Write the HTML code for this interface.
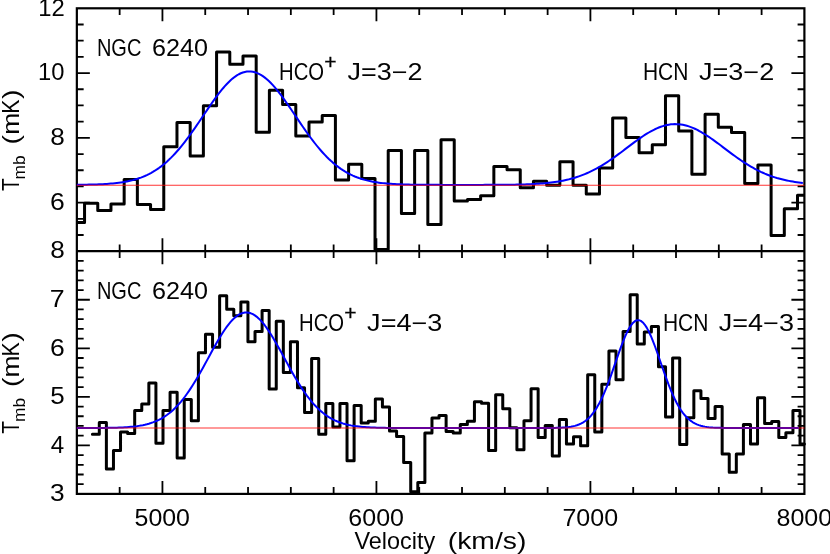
<!DOCTYPE html>
<html><head><meta charset="utf-8"><title>NGC 6240 spectra</title>
<style>
html,body{margin:0;padding:0;background:#fff;}
body{width:830px;height:554px;overflow:hidden;}
svg{display:block}
text{font-family:"Liberation Sans",sans-serif;fill:#000;}
.t{}
</style></head><body>
<svg width="830" height="554" viewBox="0 0 830 554">
<rect width="830" height="554" fill="#fff"/>
<g fill="none" stroke="#000" stroke-width="2.2" stroke-linecap="butt">
<rect x="76.85" y="8.3" width="727.55" height="485.6"/>
<path d="M76.85 251.2 L804.40 251.2"/>
<path d="M119.65 8.30 L119.65 15.10 M119.65 258.00 L119.65 244.40 M119.65 493.90 L119.65 487.10 M162.44 8.30 L162.44 21.30 M162.44 264.20 L162.44 238.20 M162.44 493.90 L162.44 480.90 M205.24 8.30 L205.24 15.10 M205.24 258.00 L205.24 244.40 M205.24 493.90 L205.24 487.10 M248.04 8.30 L248.04 15.10 M248.04 258.00 L248.04 244.40 M248.04 493.90 L248.04 487.10 M290.84 8.30 L290.84 15.10 M290.84 258.00 L290.84 244.40 M290.84 493.90 L290.84 487.10 M333.63 8.30 L333.63 15.10 M333.63 258.00 L333.63 244.40 M333.63 493.90 L333.63 487.10 M376.43 8.30 L376.43 21.30 M376.43 264.20 L376.43 238.20 M376.43 493.90 L376.43 480.90 M419.23 8.30 L419.23 15.10 M419.23 258.00 L419.23 244.40 M419.23 493.90 L419.23 487.10 M462.02 8.30 L462.02 15.10 M462.02 258.00 L462.02 244.40 M462.02 493.90 L462.02 487.10 M504.82 8.30 L504.82 15.10 M504.82 258.00 L504.82 244.40 M504.82 493.90 L504.82 487.10 M547.62 8.30 L547.62 15.10 M547.62 258.00 L547.62 244.40 M547.62 493.90 L547.62 487.10 M590.41 8.30 L590.41 21.30 M590.41 264.20 L590.41 238.20 M590.41 493.90 L590.41 480.90 M633.21 8.30 L633.21 15.10 M633.21 258.00 L633.21 244.40 M633.21 493.90 L633.21 487.10 M676.01 8.30 L676.01 15.10 M676.01 258.00 L676.01 244.40 M676.01 493.90 L676.01 487.10 M718.81 8.30 L718.81 15.10 M718.81 258.00 L718.81 244.40 M718.81 493.90 L718.81 487.10 M761.60 8.30 L761.60 15.10 M761.60 258.00 L761.60 244.40 M761.60 493.90 L761.60 487.10 M76.85 235.01 L83.65 235.01 M804.40 235.01 L797.60 235.01 M76.85 218.81 L83.65 218.81 M804.40 218.81 L797.60 218.81 M76.85 202.62 L89.85 202.62 M804.40 202.62 L791.40 202.62 M76.85 186.43 L83.65 186.43 M804.40 186.43 L797.60 186.43 M76.85 170.23 L83.65 170.23 M804.40 170.23 L797.60 170.23 M76.85 154.04 L83.65 154.04 M804.40 154.04 L797.60 154.04 M76.85 137.85 L89.85 137.85 M804.40 137.85 L791.40 137.85 M76.85 121.65 L83.65 121.65 M804.40 121.65 L797.60 121.65 M76.85 105.46 L83.65 105.46 M804.40 105.46 L797.60 105.46 M76.85 89.27 L83.65 89.27 M804.40 89.27 L797.60 89.27 M76.85 73.07 L89.85 73.07 M804.40 73.07 L791.40 73.07 M76.85 56.88 L83.65 56.88 M804.40 56.88 L797.60 56.88 M76.85 40.69 L83.65 40.69 M804.40 40.69 L797.60 40.69 M76.85 24.49 L83.65 24.49 M804.40 24.49 L797.60 24.49 M76.85 484.19 L83.65 484.19 M804.40 484.19 L797.60 484.19 M76.85 474.48 L83.65 474.48 M804.40 474.48 L797.60 474.48 M76.85 464.78 L83.65 464.78 M804.40 464.78 L797.60 464.78 M76.85 455.07 L83.65 455.07 M804.40 455.07 L797.60 455.07 M76.85 445.36 L89.85 445.36 M804.40 445.36 L791.40 445.36 M76.85 435.65 L83.65 435.65 M804.40 435.65 L797.60 435.65 M76.85 425.94 L83.65 425.94 M804.40 425.94 L797.60 425.94 M76.85 416.24 L83.65 416.24 M804.40 416.24 L797.60 416.24 M76.85 406.53 L83.65 406.53 M804.40 406.53 L797.60 406.53 M76.85 396.82 L89.85 396.82 M804.40 396.82 L791.40 396.82 M76.85 387.11 L83.65 387.11 M804.40 387.11 L797.60 387.11 M76.85 377.40 L83.65 377.40 M804.40 377.40 L797.60 377.40 M76.85 367.70 L83.65 367.70 M804.40 367.70 L797.60 367.70 M76.85 357.99 L83.65 357.99 M804.40 357.99 L797.60 357.99 M76.85 348.28 L89.85 348.28 M804.40 348.28 L791.40 348.28 M76.85 338.57 L83.65 338.57 M804.40 338.57 L797.60 338.57 M76.85 328.86 L83.65 328.86 M804.40 328.86 L797.60 328.86 M76.85 319.16 L83.65 319.16 M804.40 319.16 L797.60 319.16 M76.85 309.45 L83.65 309.45 M804.40 309.45 L797.60 309.45 M76.85 299.74 L89.85 299.74 M804.40 299.74 L791.40 299.74 M76.85 290.03 L83.65 290.03 M804.40 290.03 L797.60 290.03 M76.85 280.32 L83.65 280.32 M804.40 280.32 L797.60 280.32 M76.85 270.62 L83.65 270.62 M804.40 270.62 L797.60 270.62 M76.85 260.91 L83.65 260.91 M804.40 260.91 L797.60 260.91" stroke-width="1.8"/>
</g>
<path d="M76.85 222.40 L84.55 222.40 L84.55 203.30 L97.76 203.30 L97.76 210.50 L110.96 210.50 L110.96 204.00 L124.16 204.00 L124.16 179.50 L137.36 179.50 L137.36 204.40 L150.57 204.40 L150.57 209.40 L163.77 209.40 L163.77 146.70 L176.97 146.70 L176.97 122.60 L190.18 122.60 L190.18 156.00 L203.38 156.00 L203.38 105.80 L216.58 105.80 L216.58 52.00 L229.79 52.00 L229.79 64.20 L242.99 64.20 L242.99 56.00 L256.19 56.00 L256.19 132.20 L269.39 132.20 L269.39 90.30 L282.60 90.30 L282.60 104.60 L295.80 104.60 L295.80 135.90 L309.00 135.90 L309.00 122.00 L322.21 122.00 L322.21 115.50 L335.41 115.50 L335.41 180.10 L348.61 180.10 L348.61 164.30 L361.81 164.30 L361.81 178.40 L375.02 178.40 L375.02 249.40 L388.22 249.40 L388.22 150.60 L401.42 150.60 L401.42 213.50 L414.63 213.50 L414.63 150.60 L427.83 150.60 L427.83 224.60 L441.03 224.60 L441.03 139.80 L454.24 139.80 L454.24 201.10 L467.44 201.10 L467.44 199.40 L480.64 199.40 L480.64 195.70 L493.85 195.70 L493.85 166.60 L507.05 166.60 L507.05 169.70 L520.25 169.70 L520.25 187.80 L533.45 187.80 L533.45 181.20 L546.66 181.20 L546.66 185.30 L559.86 185.30 L559.86 161.70 L573.06 161.70 L573.06 185.30 L586.27 185.30 L586.27 194.00 L599.47 194.00 L599.47 168.00 L612.67 168.00 L612.67 118.10 L625.88 118.10 L625.88 137.60 L639.08 137.60 L639.08 152.80 L652.28 152.80 L652.28 144.70 L665.48 144.70 L665.48 95.80 L678.69 95.80 L678.69 131.10 L691.89 131.10 L691.89 174.30 L705.09 174.30 L705.09 114.20 L718.30 114.20 L718.30 127.20 L731.50 127.20 L731.50 132.60 L744.70 132.60 L744.70 183.40 L757.90 183.40 L757.90 165.00 L771.11 165.00 L771.11 235.40 L784.31 235.40 L784.31 208.70 L797.51 208.70 L797.51 195.30 L804.40 195.30" fill="none" stroke="#000" stroke-width="3.0" stroke-linejoin="round" stroke-linecap="butt"/>
<path d="M92.40 434.20 L99.30 434.20 L99.30 422.60 L106.38 422.60 L106.38 468.90 L113.46 468.90 L113.46 450.50 L120.53 450.50 L120.53 431.90 L127.61 431.90 L127.61 433.60 L134.69 433.60 L134.69 410.40 L141.77 410.40 L141.77 403.90 L148.85 403.90 L148.85 383.00 L155.92 383.00 L155.92 443.30 L163.00 443.30 L163.00 410.40 L170.08 410.40 L170.08 392.20 L177.16 392.20 L177.16 458.10 L184.24 458.10 L184.24 399.50 L191.31 399.50 L191.31 420.80 L198.39 420.80 L198.39 352.70 L205.47 352.70 L205.47 334.20 L212.55 334.20 L212.55 347.20 L219.63 347.20 L219.63 295.80 L226.70 295.80 L226.70 309.30 L233.78 309.30 L233.78 315.80 L240.86 315.80 L240.86 302.10 L247.94 302.10 L247.94 341.80 L255.02 341.80 L255.02 331.40 L262.09 331.40 L262.09 310.40 L269.17 310.40 L269.17 389.00 L276.25 389.00 L276.25 321.20 L283.33 321.20 L283.33 372.60 L290.41 372.60 L290.41 341.80 L297.48 341.80 L297.48 387.80 L304.56 387.80 L304.56 412.50 L311.64 412.50 L311.64 358.50 L318.72 358.50 L318.72 434.20 L325.80 434.20 L325.80 403.40 L332.87 403.40 L332.87 427.10 L339.95 427.10 L339.95 403.40 L347.03 403.40 L347.03 460.70 L354.11 460.70 L354.11 405.60 L361.19 405.60 L361.19 422.90 L368.26 422.90 L368.26 421.20 L375.34 421.20 L375.34 399.10 L382.42 399.10 L382.42 407.10 L389.50 407.10 L389.50 431.00 L396.58 431.00 L396.58 436.40 L403.65 436.40 L403.65 462.40 L410.73 462.40 L410.73 491.70 L417.81 491.70 L417.81 482.40 L424.89 482.40 L424.89 433.10 L431.97 433.10 L431.97 418.00 L439.04 418.00 L439.04 415.40 L446.12 415.40 L446.12 431.40 L453.20 431.40 L453.20 433.10 L460.28 433.10 L460.28 424.50 L467.36 424.50 L467.36 421.20 L474.43 421.20 L474.43 401.70 L481.51 401.70 L481.51 403.20 L488.59 403.20 L488.59 450.50 L495.67 450.50 L495.67 394.70 L502.75 394.70 L502.75 408.80 L509.82 408.80 L509.82 427.70 L516.90 427.70 L516.90 449.80 L523.98 449.80 L523.98 420.80 L531.06 420.80 L531.06 388.70 L538.14 388.70 L538.14 437.50 L545.21 437.50 L545.21 425.50 L552.29 425.50 L552.29 455.90 L559.37 455.90 L559.37 419.50 L566.45 419.50 L566.45 444.00 L573.53 444.00 L573.53 436.80 L580.60 436.80 L580.60 445.70 L587.68 445.70 L587.68 374.80 L594.76 374.80 L594.76 432.00 L601.84 432.00 L601.84 384.30 L608.92 384.30 L608.92 351.10 L615.99 351.10 L615.99 379.80 L623.07 379.80 L623.07 331.60 L630.15 331.60 L630.15 294.70 L637.23 294.70 L637.23 344.00 L644.31 344.00 L644.31 332.00 L651.38 332.00 L651.38 326.60 L658.46 326.60 L658.46 366.70 L665.54 366.70 L665.54 417.00 L672.62 417.00 L672.62 358.10 L679.70 358.10 L679.70 444.40 L686.77 444.40 L686.77 417.70 L693.85 417.70 L693.85 390.80 L700.93 390.80 L700.93 398.50 L708.01 398.50 L708.01 418.40 L715.09 418.40 L715.09 406.40 L722.16 406.40 L722.16 454.00 L729.24 454.00 L729.24 472.20 L736.32 472.20 L736.32 454.00 L743.40 454.00 L743.40 424.50 L750.48 424.50 L750.48 444.00 L757.55 444.00 L757.55 397.80 L764.63 397.80 L764.63 423.40 L771.71 423.40 L771.71 421.60 L778.79 421.60 L778.79 437.50 L785.87 437.50 L785.87 432.70 L792.94 432.70 L792.94 410.40 L800.02 410.40 L800.02 444.00 L804.40 444.00" fill="none" stroke="#000" stroke-width="3.0" stroke-linejoin="round" stroke-linecap="round"/>
<path d="M76.85 184.79 L78.85 184.77 L80.85 184.75 L82.85 184.72 L84.85 184.69 L86.85 184.66 L88.85 184.62 L90.85 184.58 L92.85 184.52 L94.85 184.46 L96.85 184.40 L98.85 184.32 L100.85 184.24 L102.85 184.14 L104.85 184.03 L106.85 183.90 L108.85 183.76 L110.85 183.60 L112.85 183.42 L114.85 183.23 L116.85 183.00 L118.85 182.76 L120.85 182.48 L122.85 182.18 L124.85 181.84 L126.85 181.46 L128.85 181.05 L130.85 180.60 L132.85 180.10 L134.85 179.55 L136.85 178.96 L138.85 178.30 L140.85 177.60 L142.85 176.82 L144.85 175.99 L146.85 175.09 L148.85 174.11 L150.85 173.06 L152.85 171.94 L154.85 170.73 L156.85 169.44 L158.85 168.06 L160.85 166.60 L162.85 165.04 L164.85 163.39 L166.85 161.65 L168.85 159.82 L170.85 157.89 L172.85 155.86 L174.85 153.74 L176.85 151.53 L178.85 149.23 L180.85 146.85 L182.85 144.38 L184.85 141.82 L186.85 139.20 L188.85 136.50 L190.85 133.74 L192.85 130.92 L194.85 128.06 L196.85 125.15 L198.85 122.21 L200.85 119.25 L202.85 116.28 L204.85 113.31 L206.85 110.35 L208.85 107.41 L210.85 104.50 L212.85 101.64 L214.85 98.84 L216.85 96.12 L218.85 93.47 L220.85 90.93 L222.85 88.49 L224.85 86.17 L226.85 83.99 L228.85 81.95 L230.85 80.06 L232.85 78.34 L234.85 76.80 L236.85 75.43 L238.85 74.25 L240.85 73.27 L242.85 72.50 L244.85 71.92 L246.85 71.56 L248.85 71.41 L250.85 71.46 L252.85 71.73 L254.85 72.21 L256.85 72.90 L258.85 73.79 L260.85 74.88 L262.85 76.16 L264.85 77.62 L266.85 79.27 L268.85 81.08 L270.85 83.05 L272.85 85.17 L274.85 87.43 L276.85 89.82 L278.85 92.31 L280.85 94.92 L282.85 97.61 L284.85 100.38 L286.85 103.21 L288.85 106.10 L290.85 109.02 L292.85 111.97 L294.85 114.94 L296.85 117.92 L298.85 120.88 L300.85 123.83 L302.85 126.75 L304.85 129.64 L306.85 132.48 L308.85 135.27 L310.85 137.99 L312.85 140.65 L314.85 143.24 L316.85 145.75 L318.85 148.17 L320.85 150.51 L322.85 152.76 L324.85 154.92 L326.85 156.99 L328.85 158.96 L330.85 160.84 L332.85 162.62 L334.85 164.31 L336.85 165.91 L338.85 167.41 L340.85 168.83 L342.85 170.16 L344.85 171.40 L346.85 172.57 L348.85 173.65 L350.85 174.66 L352.85 175.59 L354.85 176.46 L356.85 177.26 L358.85 177.99 L360.85 178.67 L362.85 179.29 L364.85 179.86 L366.85 180.38 L368.85 180.85 L370.85 181.28 L372.85 181.67 L374.85 182.03 L376.85 182.35 L378.85 182.64 L380.85 182.90 L382.85 183.13 L384.85 183.34 L386.85 183.52 L388.85 183.69 L390.85 183.84 L392.85 183.97 L394.85 184.09 L396.85 184.19 L398.85 184.28 L400.85 184.36 L402.85 184.44 L404.85 184.50 L406.85 184.55 L408.85 184.60 L410.85 184.64 L412.85 184.68 L414.85 184.71 L416.85 184.74 L418.85 184.76 L420.85 184.78 L422.85 184.80 L424.85 184.81 L426.85 184.83 L428.85 184.84 L430.85 184.85 L432.85 184.86 L434.85 184.86 L436.85 184.87 L438.85 184.87 L440.85 184.88 L442.85 184.88 L444.85 184.88 L446.85 184.89 L448.85 184.89 L450.85 184.89 L452.85 184.89 L454.85 184.89 L456.85 184.89 L458.85 184.89 L460.85 184.89 L462.85 184.89 L464.85 184.89 L466.85 184.89 L468.85 184.89 L470.85 184.89 L472.85 184.89 L474.85 184.89 L476.85 184.88 L478.85 184.88 L480.85 184.88 L482.85 184.88 L484.85 184.87 L486.85 184.87 L488.85 184.86 L490.85 184.85 L492.85 184.85 L494.85 184.84 L496.85 184.83 L498.85 184.81 L500.85 184.80 L502.85 184.79 L504.85 184.77 L506.85 184.75 L508.85 184.72 L510.85 184.70 L512.85 184.67 L514.85 184.63 L516.85 184.60 L518.85 184.55 L520.85 184.50 L522.85 184.45 L524.85 184.39 L526.85 184.32 L528.85 184.24 L530.85 184.16 L532.85 184.06 L534.85 183.96 L536.85 183.84 L538.85 183.71 L540.85 183.56 L542.85 183.40 L544.85 183.23 L546.85 183.03 L548.85 182.82 L550.85 182.59 L552.85 182.34 L554.85 182.06 L556.85 181.76 L558.85 181.43 L560.85 181.08 L562.85 180.69 L564.85 180.28 L566.85 179.83 L568.85 179.35 L570.85 178.83 L572.85 178.28 L574.85 177.69 L576.85 177.05 L578.85 176.38 L580.85 175.67 L582.85 174.91 L584.85 174.11 L586.85 173.26 L588.85 172.37 L590.85 171.43 L592.85 170.45 L594.85 169.42 L596.85 168.34 L598.85 167.22 L600.85 166.06 L602.85 164.86 L604.85 163.61 L606.85 162.32 L608.85 161.00 L610.85 159.64 L612.85 158.25 L614.85 156.83 L616.85 155.39 L618.85 153.92 L620.85 152.43 L622.85 150.93 L624.85 149.42 L626.85 147.91 L628.85 146.40 L630.85 144.89 L632.85 143.39 L634.85 141.91 L636.85 140.45 L638.85 139.02 L640.85 137.63 L642.85 136.27 L644.85 134.96 L646.85 133.70 L648.85 132.50 L650.85 131.35 L652.85 130.28 L654.85 129.28 L656.85 128.35 L658.85 127.51 L660.85 126.75 L662.85 126.09 L664.85 125.51 L666.85 125.03 L668.85 124.65 L670.85 124.36 L672.85 124.18 L674.85 124.10 L676.85 124.13 L678.85 124.25 L680.85 124.48 L682.85 124.81 L684.85 125.23 L686.85 125.76 L688.85 126.38 L690.85 127.08 L692.85 127.88 L694.85 128.76 L696.85 129.72 L698.85 130.76 L700.85 131.86 L702.85 133.03 L704.85 134.26 L706.85 135.54 L708.85 136.88 L710.85 138.25 L712.85 139.66 L714.85 141.11 L716.85 142.57 L718.85 144.06 L720.85 145.57 L722.85 147.08 L724.85 148.59 L726.85 150.10 L728.85 151.61 L730.85 153.10 L732.85 154.58 L734.85 156.04 L736.85 157.47 L738.85 158.88 L740.85 160.26 L742.85 161.60 L744.85 162.91 L746.85 164.18 L748.85 165.40 L750.85 166.59 L752.85 167.73 L754.85 168.83 L756.85 169.89 L758.85 170.89 L760.85 171.86 L762.85 172.77 L764.85 173.65 L766.85 174.47 L768.85 175.25 L770.85 175.99 L772.85 176.69 L774.85 177.34 L776.85 177.96 L778.85 178.53 L780.85 179.07 L782.85 179.57 L784.85 180.03 L786.85 180.47 L788.85 180.87 L790.85 181.24 L792.85 181.58 L794.85 181.90 L796.85 182.19 L798.85 182.45 L800.85 182.70 L802.85 182.92" fill="none" stroke="#0000ff" stroke-width="2.0" stroke-linejoin="round"/>
<path d="M76.85 427.99 L78.85 427.99 L80.85 427.99 L82.85 427.99 L84.85 427.99 L86.85 427.98 L88.85 427.98 L90.85 427.97 L92.85 427.97 L94.85 427.96 L96.85 427.95 L98.85 427.94 L100.85 427.92 L102.85 427.91 L104.85 427.89 L106.85 427.86 L108.85 427.83 L110.85 427.80 L112.85 427.76 L114.85 427.71 L116.85 427.65 L118.85 427.58 L120.85 427.50 L122.85 427.41 L124.85 427.30 L126.85 427.17 L128.85 427.03 L130.85 426.86 L132.85 426.66 L134.85 426.43 L136.85 426.18 L138.85 425.88 L140.85 425.54 L142.85 425.16 L144.85 424.73 L146.85 424.24 L148.85 423.69 L150.85 423.07 L152.85 422.39 L154.85 421.62 L156.85 420.77 L158.85 419.82 L160.85 418.78 L162.85 417.64 L164.85 416.39 L166.85 415.02 L168.85 413.53 L170.85 411.91 L172.85 410.16 L174.85 408.28 L176.85 406.26 L178.85 404.10 L180.85 401.79 L182.85 399.35 L184.85 396.76 L186.85 394.03 L188.85 391.17 L190.85 388.17 L192.85 385.05 L194.85 381.81 L196.85 378.47 L198.85 375.03 L200.85 371.51 L202.85 367.93 L204.85 364.29 L206.85 360.62 L208.85 356.93 L210.85 353.25 L212.85 349.60 L214.85 345.99 L216.85 342.46 L218.85 339.02 L220.85 335.70 L222.85 332.53 L224.85 329.51 L226.85 326.68 L228.85 324.06 L230.85 321.66 L232.85 319.51 L234.85 317.63 L236.85 316.02 L238.85 314.70 L240.85 313.68 L242.85 312.98 L244.85 312.58 L246.85 312.51 L248.85 312.76 L250.85 313.32 L252.85 314.20 L254.85 315.39 L256.85 316.87 L258.85 318.63 L260.85 320.66 L262.85 322.95 L264.85 325.47 L266.85 328.21 L268.85 331.15 L270.85 334.25 L272.85 337.51 L274.85 340.90 L276.85 344.39 L278.85 347.97 L280.85 351.60 L282.85 355.27 L284.85 358.96 L286.85 362.64 L288.85 366.29 L290.85 369.91 L292.85 373.46 L294.85 376.94 L296.85 380.32 L298.85 383.61 L300.85 386.78 L302.85 389.83 L304.85 392.76 L306.85 395.55 L308.85 398.20 L310.85 400.71 L312.85 403.08 L314.85 405.30 L316.85 407.39 L318.85 409.33 L320.85 411.14 L322.85 412.82 L324.85 414.36 L326.85 415.79 L328.85 417.09 L330.85 418.28 L332.85 419.37 L334.85 420.35 L336.85 421.25 L338.85 422.05 L340.85 422.77 L342.85 423.42 L344.85 424.00 L346.85 424.51 L348.85 424.97 L350.85 425.38 L352.85 425.73 L354.85 426.05 L356.85 426.32 L358.85 426.56 L360.85 426.77 L362.85 426.95 L364.85 427.11 L366.85 427.25 L368.85 427.36 L370.85 427.46 L372.85 427.55 L374.85 427.62 L376.85 427.68 L378.85 427.74 L380.85 427.78 L382.85 427.82 L384.85 427.85 L386.85 427.88 L388.85 427.90 L390.85 427.92 L392.85 427.93 L394.85 427.94 L396.85 427.95 L398.85 427.96 L400.85 427.97 L402.85 427.98 L404.85 427.98 L406.85 427.98 L408.85 427.99 L410.85 427.99 L412.85 427.99 L414.85 427.99 L416.85 428.00 L418.85 428.00 L420.85 428.00 L422.85 428.00 L424.85 428.00 L426.85 428.00 L428.85 428.00 L430.85 428.00 L432.85 428.00 L434.85 428.00 L436.85 428.00 L438.85 428.00 L440.85 428.00 L442.85 428.00 L444.85 428.00 L446.85 428.00 L448.85 428.00 L450.85 428.00 L452.85 428.00 L454.85 428.00 L456.85 428.00 L458.85 428.00 L460.85 428.00 L462.85 428.00 L464.85 428.00 L466.85 428.00 L468.85 428.00 L470.85 428.00 L472.85 428.00 L474.85 428.00 L476.85 428.00 L478.85 428.00 L480.85 428.00 L482.85 428.00 L484.85 428.00 L486.85 428.00 L488.85 428.00 L490.85 428.00 L492.85 428.00 L494.85 428.00 L496.85 428.00 L498.85 428.00 L500.85 428.00 L502.85 428.00 L504.85 428.00 L506.85 428.00 L508.85 428.00 L510.85 428.00 L512.85 428.00 L514.85 428.00 L516.85 428.00 L518.85 428.00 L520.85 428.00 L522.85 428.00 L524.85 428.00 L526.85 428.00 L528.85 428.00 L530.85 428.00 L532.85 428.00 L534.85 428.00 L536.85 428.00 L538.85 427.99 L540.85 427.99 L542.85 427.99 L544.85 427.98 L546.85 427.97 L548.85 427.96 L550.85 427.94 L552.85 427.91 L554.85 427.88 L556.85 427.83 L558.85 427.77 L560.85 427.69 L562.85 427.58 L564.85 427.44 L566.85 427.25 L568.85 427.01 L570.85 426.71 L572.85 426.33 L574.85 425.85 L576.85 425.26 L578.85 424.53 L580.85 423.64 L582.85 422.56 L584.85 421.28 L586.85 419.75 L588.85 417.96 L590.85 415.87 L592.85 413.46 L594.85 410.71 L596.85 407.60 L598.85 404.12 L600.85 400.26 L602.85 396.03 L604.85 391.44 L606.85 386.52 L608.85 381.30 L610.85 375.84 L612.85 370.20 L614.85 364.44 L616.85 358.65 L618.85 352.93 L620.85 347.37 L622.85 342.07 L624.85 337.14 L626.85 332.67 L628.85 328.77 L630.85 325.51 L632.85 322.97 L634.85 321.21 L636.85 320.26 L638.85 320.16 L640.85 320.90 L642.85 322.46 L644.85 324.81 L646.85 327.89 L648.85 331.64 L650.85 335.97 L652.85 340.80 L654.85 346.01 L656.85 351.52 L658.85 357.21 L660.85 362.99 L662.85 368.76 L664.85 374.44 L666.85 379.96 L668.85 385.24 L670.85 390.24 L672.85 394.91 L674.85 399.24 L676.85 403.19 L678.85 406.77 L680.85 409.97 L682.85 412.81 L684.85 415.30 L686.85 417.46 L688.85 419.33 L690.85 420.92 L692.85 422.26 L694.85 423.39 L696.85 424.32 L698.85 425.09 L700.85 425.71 L702.85 426.22 L704.85 426.62 L706.85 426.94 L708.85 427.20 L710.85 427.39 L712.85 427.55 L714.85 427.66 L716.85 427.75 L718.85 427.82 L720.85 427.87 L722.85 427.90 L724.85 427.93 L726.85 427.95 L728.85 427.97 L730.85 427.98 L732.85 427.98 L734.85 427.99 L736.85 427.99 L738.85 427.99 L740.85 428.00 L742.85 428.00 L744.85 428.00 L746.85 428.00 L748.85 428.00 L750.85 428.00 L752.85 428.00 L754.85 428.00 L756.85 428.00 L758.85 428.00 L760.85 428.00 L762.85 428.00 L764.85 428.00 L766.85 428.00 L768.85 428.00 L770.85 428.00 L772.85 428.00 L774.85 428.00 L776.85 428.00 L778.85 428.00 L780.85 428.00 L782.85 428.00 L784.85 428.00 L786.85 428.00 L788.85 428.00 L790.85 428.00 L792.85 428.00 L794.85 428.00 L796.85 428.00 L798.85 428.00" fill="none" stroke="#0000ff" stroke-width="2.0" stroke-linejoin="round"/>
<path d="M76.8 185.25 L804.4 185.25" stroke="#ff0000" stroke-opacity="0.8" stroke-width="1.0" fill="none"/>
<path d="M76.8 428.0 L804.4 428.0" stroke="#ff0000" stroke-opacity="0.8" stroke-width="1.0" fill="none"/>
<g opacity="0.99">
<text id="ngc1" x="96.88" y="55.8" textLength="44.47" lengthAdjust="spacingAndGlyphs" font-size="23.2">NGC</text>
<text id="n62401" class="t" x="152.02" y="55.8" textLength="56.04" lengthAdjust="spacingAndGlyphs" font-size="23.2">6240</text>
<text id="ngc2" x="96.88" y="299.0" textLength="44.47" lengthAdjust="spacingAndGlyphs" font-size="23.2">NGC</text>
<text id="n62402" class="t" x="152.02" y="299.0" textLength="56.04" lengthAdjust="spacingAndGlyphs" font-size="23.2">6240</text>
<text id="hco1" x="279.02" y="80.3" textLength="45.05" lengthAdjust="spacingAndGlyphs" font-size="23.2">HCO</text>
<text id="j1" class="t" x="347.42" y="80.3" textLength="75.01" lengthAdjust="spacingAndGlyphs" font-size="23.2">J=3&#8722;2</text>
<text id="hcn1" x="642.93" y="80.3" textLength="45.47" lengthAdjust="spacingAndGlyphs" font-size="23.2">HCN</text>
<text id="j2" class="t" x="698.98" y="80.3" textLength="75.24" lengthAdjust="spacingAndGlyphs" font-size="23.2">J=3&#8722;2</text>
<text id="hco2" x="299.02" y="330.8" textLength="45.05" lengthAdjust="spacingAndGlyphs" font-size="23.2">HCO</text>
<text id="j3" class="t" x="367.14" y="330.8" textLength="75.22" lengthAdjust="spacingAndGlyphs" font-size="23.2">J=4&#8722;3</text>
<text id="hcn2" x="662.93" y="330.8" textLength="45.47" lengthAdjust="spacingAndGlyphs" font-size="23.2">HCN</text>
<text id="j4" class="t" x="718.78" y="330.8" textLength="75.19" lengthAdjust="spacingAndGlyphs" font-size="23.2">J=4&#8722;3</text>
<text id="vel" class="t" x="354.47" y="549.4" textLength="80.61" lengthAdjust="spacingAndGlyphs" font-size="24.5">Velocity</text>
<text id="kms" class="t" x="447.78" y="549.4" textLength="78.60" lengthAdjust="spacingAndGlyphs" font-size="24.5">(km/s)</text>
<text id="x5000" class="t" x="134.57" y="525.7" textLength="55.40" lengthAdjust="spacingAndGlyphs" font-size="24.5">5000</text>
<text id="x6000" class="t" x="348.33" y="525.7" textLength="55.64" lengthAdjust="spacingAndGlyphs" font-size="24.5">6000</text>
<text id="x7000" class="t" x="562.45" y="525.7" textLength="55.64" lengthAdjust="spacingAndGlyphs" font-size="24.5">7000</text>
<text id="x8000" class="t" x="776.56" y="525.7" textLength="55.66" lengthAdjust="spacingAndGlyphs" font-size="24.5">8000</text>
<text id="yt12" class="t" x="38.14" y="15.5" textLength="26.52" lengthAdjust="spacingAndGlyphs" font-size="24.5">12</text>
<text id="yt10" class="t" x="38.02" y="80.3" textLength="26.42" lengthAdjust="spacingAndGlyphs" font-size="24.5">10</text>
<text id="yt8" class="t" x="50.28" y="145.0" textLength="14.54" lengthAdjust="spacingAndGlyphs" font-size="24.5">8</text>
<text id="yt6" class="t" x="50.07" y="209.8" textLength="14.78" lengthAdjust="spacingAndGlyphs" font-size="24.5">6</text>
<text id="yb8" class="t" x="50.28" y="258.4" textLength="14.54" lengthAdjust="spacingAndGlyphs" font-size="24.5">8</text>
<text id="yb7" class="t" x="49.89" y="306.9" textLength="14.91" lengthAdjust="spacingAndGlyphs" font-size="24.5">7</text>
<text id="yb6" class="t" x="50.07" y="355.5" textLength="14.78" lengthAdjust="spacingAndGlyphs" font-size="24.5">6</text>
<text id="yb5" class="t" x="50.22" y="404.0" textLength="14.47" lengthAdjust="spacingAndGlyphs" font-size="24.5">5</text>
<text id="yb4" class="t" x="50.87" y="452.6" textLength="13.44" lengthAdjust="spacingAndGlyphs" font-size="24.5">4</text>
<text id="yb3" class="t" x="50.03" y="501.1" textLength="14.64" lengthAdjust="spacingAndGlyphs" font-size="24.5">3</text>
<text x="324.3" y="69.4" font-size="21" stroke="#000" stroke-width="0.35">+</text>
<text x="344.3" y="320.2" font-size="21" stroke="#000" stroke-width="0.35">+</text>
<g transform="translate(19.0,190.7) rotate(-90)"><text class="t" x="-0.36" y="0.0" font-size="24.5" textLength="12.76" lengthAdjust="spacingAndGlyphs">T</text><text x="11.32" y="6.2" font-size="17.0" textLength="24.19" lengthAdjust="spacingAndGlyphs">mb</text><text x="46.31" y="0.0" font-size="24.5" textLength="9.51" lengthAdjust="spacingAndGlyphs">(</text><text class="t" x="55.89" y="0.0" font-size="24.5" textLength="21.92" lengthAdjust="spacingAndGlyphs">m</text><text class="t" x="76.93" y="0.0" font-size="24.5" textLength="14.19" lengthAdjust="spacingAndGlyphs">K</text><text x="91.63" y="0.0" font-size="24.5" textLength="9.53" lengthAdjust="spacingAndGlyphs">)</text></g>
<g transform="translate(19.0,433.3) rotate(-90)"><text class="t" x="-0.36" y="0.0" font-size="24.5" textLength="12.76" lengthAdjust="spacingAndGlyphs">T</text><text x="11.32" y="6.2" font-size="17.0" textLength="24.19" lengthAdjust="spacingAndGlyphs">mb</text><text x="46.31" y="0.0" font-size="24.5" textLength="9.51" lengthAdjust="spacingAndGlyphs">(</text><text class="t" x="55.89" y="0.0" font-size="24.5" textLength="21.92" lengthAdjust="spacingAndGlyphs">m</text><text class="t" x="76.93" y="0.0" font-size="24.5" textLength="14.19" lengthAdjust="spacingAndGlyphs">K</text><text x="91.63" y="0.0" font-size="24.5" textLength="9.53" lengthAdjust="spacingAndGlyphs">)</text></g>
</g>
</svg>
</body></html>
